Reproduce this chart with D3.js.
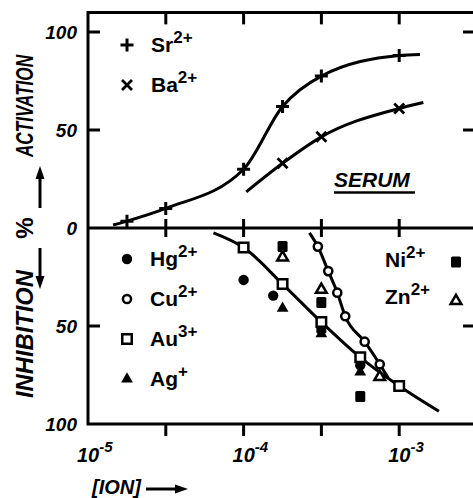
<!DOCTYPE html>
<html>
<head>
<meta charset="utf-8">
<script src="https://cdn.jsdelivr.net/npm/d3@7/dist/d3.min.js"></script>
<style>
  body { margin: 0; background: #fff; }
  svg { display: block; font-family: "Liberation Sans", Arial, sans-serif; }
</style>
</head>
<body>
<div id="chart"></div>
<script>
// Size of the page
var width = 473;
var height = 498;

// Activation (%) vs ion concentration (M)
var srConc = [1.78e-5, 3.16e-5, 1e-4, 1.78e-4, 3.16e-4, 1e-3];
var srAct = [3.5, 10, 30, 62, 77.5, 88];
var baConc = [1.78e-4, 3.16e-4, 1e-3];
var baAct = [33, 46.5, 61];

// fitted curves drawn in the upper panel
var srCurveConc = [1.45e-5, 1.78e-5, 3.16e-5, 1e-4, 1.78e-4, 3.16e-4, 1e-3, 1.36e-3];
var srCurveAct = [1.5, 3.5, 10, 30, 62, 77.5, 88, 88.5];
var baCurveConc = [1.04e-4, 1.78e-4, 3.16e-4, 1e-3, 1.43e-3];
var baCurveAct = [18.4, 33, 46.5, 61, 64];

// Inhibition (%) vs ion concentration (M)
var hgConc = [1e-4, 1.55e-4, 5.62e-4];
var hgInh = [26.5, 34.5, 70];
var cuConc = [3e-4, 3.5e-4, 4e-4, 4.5e-4, 6e-4, 7.5e-4];
var cuInh = [9.5, 22, 33, 45, 58, 69.5];
var auConc = [1e-4, 1.78e-4, 3.16e-4, 5.62e-4, 1e-3];
var auInh = [10, 28.6, 48, 66, 80.6];
var agConc = [1.78e-4, 3.16e-4, 5.62e-4];
var agInh = [41, 54, 73.5];
var niConc = [1.78e-4, 3.16e-4, 3.16e-4, 5.62e-4];
var niInh = [9.5, 38, 51, 86];
var znConc = [1.78e-4, 3.16e-4, 7.5e-4];
var znInh = [15, 31.5, 76];

// fitted curves drawn in the lower panel
var auCurveConc = [6.4e-5, 1e-4, 1.78e-4, 3.16e-4, 5.62e-4, 1e-3, 1.8e-3];
var auCurveInh = [2.5, 10, 28.6, 48, 66, 80.6, 93.5];
var cuCurveConc = [2.65e-4, 3e-4, 3.5e-4, 4e-4, 4.5e-4, 6e-4, 7.5e-4, 8.5e-4];
var cuCurveInh = [2.5, 9.5, 22, 33, 45, 58, 69.5, 76.5];

// Axis ticks
var xTicks = [1e-5, Math.pow(10, -4.5), 1e-4, Math.pow(10, -3.5), 1e-3];
var xLabelTicks = [1e-5, 1e-4, 1e-3];
var xLabelExp = ["-5", "-4", "-3"];
var actTicks = [0, 50, 100];
var inhTicks = [50, 100];

// Legends
var upperLegend = [
  { name: "Sr", sup: "2+", mark: "plus" },
  { name: "Ba", sup: "2+", mark: "cross" }
];
var lowerLegend = [
  { name: "Hg", sup: "2+", mark: "dot" },
  { name: "Cu", sup: "2+", mark: "circle" },
  { name: "Au", sup: "3+", mark: "square" },
  { name: "Ag", sup: "+", mark: "tri" }
];
var rightLegend = [
  { name: "Ni", sup: "2+", mark: "fsquare" },
  { name: "Zn", sup: "2+", mark: "otri" }
];

var svg = d3.select("#chart").append("svg")
  .attr("width", width)
  .attr("height", height);

svg.append("rect").attr("width", width).attr("height", height).attr("fill", "#fff");

// scales
var x = d3.scaleLog().domain([1e-5, Math.pow(10, -2.5)]).range([88, 477]);
var yAct = d3.scaleLinear().domain([0, 100]).range([228, 32]);
var yInh = d3.scaleLinear().domain([0, 100]).range([228, 424]);

var frameLeft = x.range()[0], frameRight = x.range()[1];
var frameTop = yAct(110), frameBottom = yInh(100), frameMid = yAct(0);

// frame
var frame = svg.append("g").attr("stroke", "#000").attr("stroke-width", 3).attr("fill", "none");
frame.append("path").attr("d", "M" + frameRight + "," + frameTop + "H" + frameLeft + "V" + frameBottom + "H" + frameRight + "V" + frameTop);
frame.append("line").attr("x1", frameLeft).attr("x2", frameRight).attr("y1", frameMid).attr("y2", frameMid);

// x ticks: inside at top, across the zero line, outside at the bottom
xTicks.slice(1).forEach(function (t) {
  frame.append("line").attr("x1", x(t)).attr("x2", x(t)).attr("y1", frameTop).attr("y2", frameTop + 12);
  frame.append("line").attr("x1", x(t)).attr("x2", x(t)).attr("y1", frameMid - 9).attr("y2", frameMid + 9);
  frame.append("line").attr("x1", x(t)).attr("x2", x(t)).attr("y1", frameBottom).attr("y2", frameBottom + 12);
});

// y ticks on both sides
[yAct(100), yAct(50), yInh(50)].forEach(function (yy) {
  frame.append("line").attr("x1", frameLeft).attr("x2", frameLeft + 12).attr("y1", yy).attr("y2", yy);
  frame.append("line").attr("x1", frameRight - 14).attr("x2", frameRight).attr("y1", yy).attr("y2", yy);
});

// y tick labels
svg.selectAll(".act-label").data(actTicks).enter().append("text")
  .attr("class", "act-label")
  .attr("x", 77).attr("y", function (d) { return yAct(d); })
  .attr("dy", "0.35em")
  .attr("text-anchor", "end")
  .style("font-size", "19px").style("font-weight", "bold").style("font-style", "italic")
  .text(function (d) { return d; });
svg.selectAll(".inh-label").data(inhTicks).enter().append("text")
  .attr("class", "inh-label")
  .attr("x", 77).attr("y", function (d) { return yInh(d); })
  .attr("dy", "0.35em")
  .attr("text-anchor", "end")
  .style("font-size", "19px").style("font-weight", "bold").style("font-style", "italic")
  .text(function (d) { return d; });

// x tick labels 10^n
xLabelTicks.forEach(function (t, i) {
  var tx = svg.append("text")
    .attr("x", x(t) - 11).attr("y", 462)
    .style("font-size", "20px").style("font-weight", "bold").style("font-style", "italic");
  tx.append("tspan").text("10");
  tx.append("tspan").attr("dy", -10).style("font-size", "15px").text(xLabelExp[i]);
});

// x axis title
svg.append("text").attr("x", 92).attr("y", 494)
  .style("font-size", "20px").style("font-weight", "bold").style("font-style", "italic")
  .text("[ION]");
svg.append("line").attr("x1", 146).attr("x2", 178).attr("y1", 489).attr("y2", 489)
  .attr("stroke", "#000").attr("stroke-width", 3);
svg.append("path").attr("d", "M188,489L175,484.5L175,493.5Z").attr("fill", "#000");

// vertical titles
svg.append("text").attr("transform", "translate(33,106) rotate(-90)")
  .attr("text-anchor", "middle")
  .attr("textLength", 102).attr("lengthAdjust", "spacingAndGlyphs")
  .style("font-family", "'Liberation Sans Narrow', 'Liberation Sans', sans-serif")
  .style("font-size", "24px").style("font-weight", "bold").style("font-style", "italic")
  .text("ACTIVATION");
svg.append("text").attr("transform", "translate(33,334) rotate(-90)")
  .attr("text-anchor", "middle")
  .attr("textLength", 128).attr("lengthAdjust", "spacingAndGlyphs")
  .style("font-family", "'Liberation Sans Narrow', 'Liberation Sans', sans-serif")
  .style("font-size", "24px").style("font-weight", "bold").style("font-style", "italic")
  .text("INHIBITION");
svg.append("text").attr("transform", "translate(33,228) rotate(-90)")
  .attr("text-anchor", "middle")
  .style("font-size", "24px").style("font-weight", "bold")
  .text("%");

// up / down arrows
svg.append("line").attr("x1", 40).attr("x2", 40).attr("y1", 208).attr("y2", 176)
  .attr("stroke", "#000").attr("stroke-width", 3);
svg.append("path").attr("d", "M40,166L35.5,179L44.5,179Z").attr("fill", "#000");
svg.append("line").attr("x1", 40).attr("x2", 40).attr("y1", 248).attr("y2", 279)
  .attr("stroke", "#000").attr("stroke-width", 3);
svg.append("path").attr("d", "M40,289L35.5,276L44.5,276Z").attr("fill", "#000");

// curves
function drawCurve(conc, vals, yScale) {
  var pts = conc.map(function (c, i) { return [c, vals[i]]; });
  var line = d3.line()
    .x(function (d) { return x(d[0]); })
    .y(function (d) { return yScale(d[1]); })
    .curve(d3.curveMonotoneX);
  svg.append("path").datum(pts)
    .attr("d", line)
    .attr("fill", "none")
    .attr("stroke", "#000")
    .attr("stroke-width", 3);
}
drawCurve(srCurveConc, srCurveAct, yAct);
drawCurve(baCurveConc, baCurveAct, yAct);
drawCurve(auCurveConc, auCurveInh, yInh);
drawCurve(cuCurveConc, cuCurveInh, yInh);

// markers
function marker(g, type) {
  if (type === "plus") {
    g.append("path").attr("d", "M-6.5,0H6.5M0,-6.5V6.5").attr("stroke", "#000").attr("stroke-width", 3);
  } else if (type === "cross") {
    g.append("path").attr("d", "M-5,-5L5,5M-5,5L5,-5").attr("stroke", "#000").attr("stroke-width", 2.8);
  } else if (type === "dot") {
    g.append("path").attr("d", d3.symbol(d3.symbolCircle, 85)()).attr("fill", "#000");
  } else if (type === "circle") {
    g.append("path").attr("d", d3.symbol(d3.symbolCircle, 52)()).attr("fill", "#fff")
      .attr("stroke", "#000").attr("stroke-width", 2.5);
  } else if (type === "square") {
    g.append("path").attr("d", d3.symbol(d3.symbolSquare, 90)()).attr("fill", "#fff")
      .attr("stroke", "#000").attr("stroke-width", 2.5);
  } else if (type === "tri") {
    g.append("path").attr("d", d3.symbol(d3.symbolTriangle, 60)()).attr("fill", "#000");
  } else if (type === "fsquare") {
    g.append("rect").attr("x", -5).attr("y", -5.5).attr("width", 10).attr("height", 11)
      .attr("rx", 1.5).attr("fill", "#000");
  } else if (type === "otri") {
    g.append("path").attr("d", d3.symbol(d3.symbolTriangle, 50)()).attr("fill", "#fff")
      .attr("stroke", "#000").attr("stroke-width", 2.5);
  }
}

function drawPoints(conc, vals, yScale, type) {
  conc.forEach(function (c, i) {
    var g = svg.append("g").attr("transform", "translate(" + x(c) + "," + yScale(vals[i]) + ")");
    marker(g, type);
  });
}
drawPoints(srConc, srAct, yAct, "plus");
drawPoints(baConc, baAct, yAct, "cross");
drawPoints(niConc, niInh, yInh, "fsquare");
drawPoints(agConc, agInh, yInh, "tri");
drawPoints(hgConc, hgInh, yInh, "dot");
drawPoints(znConc, znInh, yInh, "otri");
drawPoints(auConc, auInh, yInh, "square");
drawPoints(cuConc, cuInh, yInh, "circle");

// SERUM label
svg.append("text").attr("x", 334).attr("y", 187)
  .style("font-size", "21px").style("font-weight", "bold").style("font-style", "italic")
  .text("SERUM");
svg.append("line").attr("x1", 334).attr("x2", 415).attr("y1", 192.5).attr("y2", 192.5)
  .attr("stroke", "#000").attr("stroke-width", 2.5);

// legends
function legendText(tx, ty, item) {
  var t = svg.append("text").attr("x", tx).attr("y", ty)
    .style("font-size", "21px").style("font-weight", "bold");
  t.append("tspan").text(item.name);
  t.append("tspan").attr("dy", -9).style("font-size", "17px").text(item.sup);
}
upperLegend.forEach(function (item, i) {
  var my = 45 + i * 40;
  marker(svg.append("g").attr("transform", "translate(127," + my + ")"), item.mark);
  legendText(151, my + 7, item);
});
lowerLegend.forEach(function (item, i) {
  var my = 259 + i * 40;
  marker(svg.append("g").attr("transform", "translate(127," + my + ")"), item.mark);
  legendText(150, my + 7, item);
});
rightLegend.forEach(function (item, i) {
  var my = 262 + i * 39;
  marker(svg.append("g").attr("transform", "translate(456," + my + ")"), item.mark);
  legendText(385, 267 + i * 37, item);
});
</script>
</body>
</html>
